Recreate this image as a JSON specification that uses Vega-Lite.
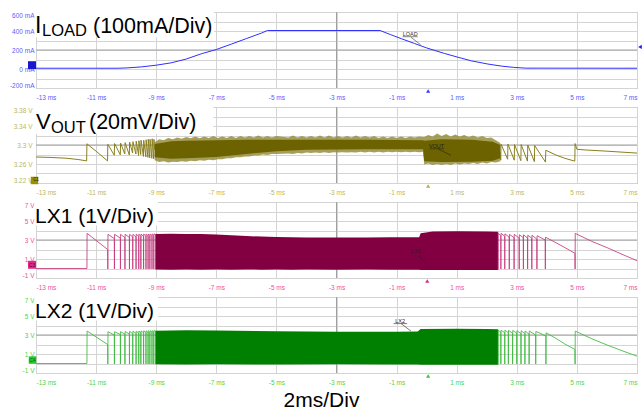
{
  "$schema": "https://vega.github.io/schema/vega-lite/v6.json",
  "background": "white",
  "padding": {"left": 0, "top": 10, "right": 0, "bottom": 0},
  "spacing": 19,
  "bounds": "flush",
  "data": {"values": [{"one": 1}]},
  "config": {
    "font": "Liberation Sans",
    "view": {"stroke": "#a6a6a6", "strokeWidth": 1},
    "axis": {
      "domain": false,
      "ticks": false,
      "grid": true,
      "gridColor": "#d4d4d4",
      "gridWidth": 1,
      "labelFont": "Liberation Sans",
      "labelFontSize": 6.5,
      "labelOverlap": false,
      "labelBound": false,
      "labelFlush": true
    },
    "axisX": {"labelPadding": 6},
    "axisY": {"labelPadding": 2, "minExtent": 35, "maxExtent": 35}
  },
  "datasets": {
    "iload": [
      {"t": -13, "ma": 8}, {"t": -10.3, "ma": 8}, {"t": -10, "ma": 11}, {"t": -9.5, "ma": 22},
      {"t": -9, "ma": 40}, {"t": -8.5, "ma": 65}, {"t": -8, "ma": 105}, {"t": -7.5, "ma": 160},
      {"t": -7, "ma": 205}, {"t": -6.5, "ma": 262}, {"t": -6, "ma": 320}, {"t": -5.5, "ma": 378},
      {"t": -5.3, "ma": 405}, {"t": -1.55, "ma": 405}, {"t": -1.2, "ma": 362}, {"t": -0.85, "ma": 320},
      {"t": -0.4, "ma": 268}, {"t": 0, "ma": 222}, {"t": 0.25, "ma": 197}, {"t": 0.6, "ma": 163},
      {"t": 1.04, "ma": 124}, {"t": 1.5, "ma": 85}, {"t": 2.04, "ma": 52}, {"t": 2.5, "ma": 30},
      {"t": 2.9, "ma": 17}, {"t": 3.3, "ma": 9}, {"t": 7, "ma": 8}
    ],
    "vout_line": [
      {"seg": "a", "t": -13, "v": 3.2747}, {"seg": "a", "t": -12.5, "v": 3.2738}, {"seg": "a", "t": -12, "v": 3.2722},
      {"seg": "a", "t": -11.6, "v": 3.2695}, {"seg": "a", "t": -11.315, "v": 3.2665}, {"seg": "a", "t": -11.305, "v": 3.3025},
      {"seg": "a", "t": -11, "v": 3.287}, {"seg": "a", "t": -10.62, "v": 3.2665}, {"seg": "a", "t": -10.61, "v": 3.3015},
      {"seg": "a", "t": -10.395, "v": 3.2785}, {"seg": "a", "t": -10.385, "v": 3.303}, {"seg": "a", "t": -10.195, "v": 3.2795},
      {"seg": "a", "t": -10.185, "v": 3.304}, {"seg": "a", "t": -10.045, "v": 3.281}, {"seg": "a", "t": -10.035, "v": 3.305},
      {"seg": "a", "t": -9.895, "v": 3.279}, {"seg": "a", "t": -9.885, "v": 3.306}, {"seg": "a", "t": -9.785, "v": 3.283},
      {"seg": "a", "t": -9.775, "v": 3.307}, {"seg": "a", "t": -9.675, "v": 3.281}, {"seg": "a", "t": -9.665, "v": 3.308},
      {"seg": "a", "t": -9.585, "v": 3.278}, {"seg": "a", "t": -9.575, "v": 3.309}, {"seg": "a", "t": -9.515, "v": 3.28},
      {"seg": "a", "t": -9.505, "v": 3.31}, {"seg": "a", "t": -9.425, "v": 3.276}, {"seg": "a", "t": -9.415, "v": 3.31},
      {"seg": "a", "t": -9.345, "v": 3.275}, {"seg": "a", "t": -9.335, "v": 3.311}, {"seg": "a", "t": -9.275, "v": 3.274},
      {"seg": "a", "t": -9.265, "v": 3.312}, {"seg": "a", "t": -9.215, "v": 3.273}, {"seg": "a", "t": -9.205, "v": 3.312},
      {"seg": "a", "t": -9.145, "v": 3.272}, {"seg": "a", "t": -9.135, "v": 3.313}, {"seg": "a", "t": -9.085, "v": 3.271},
      {"seg": "a", "t": -9.075, "v": 3.312}, {"seg": "a", "t": -9.05, "v": 3.29},
      {"seg": "b", "t": 2.45, "v": 3.285}, {"seg": "b", "t": 2.465, "v": 3.268}, {"seg": "b", "t": 2.475, "v": 3.302},
      {"seg": "b", "t": 2.695, "v": 3.27}, {"seg": "b", "t": 2.705, "v": 3.302}, {"seg": "b", "t": 2.915, "v": 3.268},
      {"seg": "b", "t": 2.925, "v": 3.301}, {"seg": "b", "t": 3.135, "v": 3.267}, {"seg": "b", "t": 3.145, "v": 3.301},
      {"seg": "b", "t": 3.355, "v": 3.266}, {"seg": "b", "t": 3.365, "v": 3.3}, {"seg": "b", "t": 3.585, "v": 3.265},
      {"seg": "b", "t": 3.595, "v": 3.299}, {"seg": "b", "t": 3.955, "v": 3.264}, {"seg": "b", "t": 3.965, "v": 3.289},
      {"seg": "b", "t": 4.3, "v": 3.279}, {"seg": "b", "t": 4.6, "v": 3.272}, {"seg": "b", "t": 4.93, "v": 3.266},
      {"seg": "b", "t": 4.94, "v": 3.303}, {"seg": "b", "t": 5.0, "v": 3.291}, {"seg": "b", "t": 5.3, "v": 3.2895},
      {"seg": "b", "t": 6, "v": 3.287}, {"seg": "b", "t": 6.5, "v": 3.285}, {"seg": "b", "t": 7, "v": 3.283}
    ],
    "vout_outer": [
      {"t": -9.05, "lo": 3.268, "hi": 3.306}, {"t": -8.9, "lo": 3.264, "hi": 3.312}, {"t": -8.75, "lo": 3.266, "hi": 3.31},
      {"t": -8.6, "lo": 3.263, "hi": 3.315}, {"t": -8.45, "lo": 3.265, "hi": 3.312}, {"t": -8.3, "lo": 3.264, "hi": 3.316},
      {"t": -8.15, "lo": 3.266, "hi": 3.313}, {"t": -8.0, "lo": 3.265, "hi": 3.317}, {"t": -7.85, "lo": 3.267, "hi": 3.314},
      {"t": -7.7, "lo": 3.266, "hi": 3.318}, {"t": -7.55, "lo": 3.268, "hi": 3.314}, {"t": -7.4, "lo": 3.267, "hi": 3.318},
      {"t": -7.25, "lo": 3.269, "hi": 3.315}, {"t": -7.1, "lo": 3.268, "hi": 3.319}, {"t": -6.95, "lo": 3.27, "hi": 3.315},
      {"t": -6.8, "lo": 3.27, "hi": 3.318}, {"t": -6.65, "lo": 3.272, "hi": 3.315}, {"t": -6.5, "lo": 3.272, "hi": 3.319},
      {"t": -6.35, "lo": 3.274, "hi": 3.315}, {"t": -6.2, "lo": 3.274, "hi": 3.319}, {"t": -6.05, "lo": 3.276, "hi": 3.316},
      {"t": -5.9, "lo": 3.276, "hi": 3.319}, {"t": -5.75, "lo": 3.278, "hi": 3.316}, {"t": -5.6, "lo": 3.278, "hi": 3.32},
      {"t": -5.45, "lo": 3.28, "hi": 3.316}, {"t": -5.3, "lo": 3.279, "hi": 3.319}, {"t": -5.15, "lo": 3.281, "hi": 3.316},
      {"t": -5.0, "lo": 3.281, "hi": 3.319}, {"t": -4.6, "lo": 3.282, "hi": 3.316}, {"t": -4.45, "lo": 3.281, "hi": 3.32},
      {"t": -4.3, "lo": 3.283, "hi": 3.316}, {"t": -4.15, "lo": 3.282, "hi": 3.319}, {"t": -4.0, "lo": 3.284, "hi": 3.316},
      {"t": -3.85, "lo": 3.283, "hi": 3.319}, {"t": -3.7, "lo": 3.284, "hi": 3.316}, {"t": -3.55, "lo": 3.283, "hi": 3.32},
      {"t": -3.4, "lo": 3.285, "hi": 3.316}, {"t": -3.25, "lo": 3.283, "hi": 3.32}, {"t": -3.1, "lo": 3.285, "hi": 3.316},
      {"t": -2.95, "lo": 3.284, "hi": 3.319}, {"t": -2.8, "lo": 3.285, "hi": 3.316}, {"t": -2.65, "lo": 3.284, "hi": 3.319},
      {"t": -2.5, "lo": 3.285, "hi": 3.316}, {"t": -2.35, "lo": 3.284, "hi": 3.32}, {"t": -2.2, "lo": 3.286, "hi": 3.316},
      {"t": -2.05, "lo": 3.284, "hi": 3.319}, {"t": -1.9, "lo": 3.286, "hi": 3.316}, {"t": -1.75, "lo": 3.284, "hi": 3.319},
      {"t": -1.6, "lo": 3.286, "hi": 3.315}, {"t": -1.45, "lo": 3.284, "hi": 3.318}, {"t": -1.3, "lo": 3.286, "hi": 3.315},
      {"t": -1.15, "lo": 3.285, "hi": 3.318}, {"t": -1.0, "lo": 3.286, "hi": 3.315}, {"t": -0.85, "lo": 3.285, "hi": 3.318},
      {"t": -0.7, "lo": 3.286, "hi": 3.315}, {"t": -0.55, "lo": 3.285, "hi": 3.318}, {"t": -0.4, "lo": 3.286, "hi": 3.316},
      {"t": -0.25, "lo": 3.285, "hi": 3.318}, {"t": -0.12, "lo": 3.286, "hi": 3.317}, {"t": -0.08, "lo": 3.259, "hi": 3.317},
      {"t": 0.05, "lo": 3.261, "hi": 3.321}, {"t": 0.2, "lo": 3.258, "hi": 3.318}, {"t": 0.35, "lo": 3.26, "hi": 3.324},
      {"t": 0.5, "lo": 3.258, "hi": 3.319}, {"t": 0.65, "lo": 3.26, "hi": 3.323}, {"t": 0.8, "lo": 3.258, "hi": 3.318},
      {"t": 0.95, "lo": 3.261, "hi": 3.322}, {"t": 1.1, "lo": 3.259, "hi": 3.318}, {"t": 1.25, "lo": 3.261, "hi": 3.321},
      {"t": 1.4, "lo": 3.26, "hi": 3.317}, {"t": 1.55, "lo": 3.262, "hi": 3.32}, {"t": 1.7, "lo": 3.26, "hi": 3.316},
      {"t": 1.85, "lo": 3.263, "hi": 3.319}, {"t": 2.0, "lo": 3.261, "hi": 3.315}, {"t": 2.15, "lo": 3.264, "hi": 3.316},
      {"t": 2.3, "lo": 3.263, "hi": 3.31}, {"t": 2.45, "lo": 3.266, "hi": 3.304}
    ],
    "vout_inner": [
      {"t": -9.05, "lo": 3.274, "hi": 3.302}, {"t": -8.5, "lo": 3.271, "hi": 3.308}, {"t": -8, "lo": 3.272, "hi": 3.309},
      {"t": -7, "lo": 3.275, "hi": 3.31}, {"t": -6, "lo": 3.281, "hi": 3.311}, {"t": -5, "lo": 3.287, "hi": 3.311},
      {"t": -4, "lo": 3.29, "hi": 3.311}, {"t": -2, "lo": 3.291, "hi": 3.311}, {"t": -0.12, "lo": 3.291, "hi": 3.31},
      {"t": -0.08, "lo": 3.266, "hi": 3.309}, {"t": 0.5, "lo": 3.264, "hi": 3.312}, {"t": 1.5, "lo": 3.265, "hi": 3.311},
      {"t": 2.2, "lo": 3.267, "hi": 3.307}, {"t": 2.45, "lo": 3.272, "hi": 3.3}
    ],
    "lx1_line": [
      {"seg": "a", "t": -13, "v": 0}, {"seg": "a", "t": -11.305, "v": 0}, {"seg": "a", "t": -11.3, "v": 3.7},
      {"seg": "a", "t": -10.615, "v": 2.0}, {"seg": "a", "t": -10.61, "v": -0.05}, {"seg": "a", "t": -10.605, "v": 3.6},
      {"seg": "a", "t": -10.395, "v": 3.15}, {"seg": "a", "t": -10.39, "v": -0.05}, {"seg": "a", "t": -10.385, "v": 3.6},
      {"seg": "a", "t": -10.195, "v": 3.2}, {"seg": "a", "t": -10.19, "v": -0.05}, {"seg": "a", "t": -10.185, "v": 3.6},
      {"seg": "a", "t": -10.045, "v": 3.25}, {"seg": "a", "t": -10.04, "v": -0.05}, {"seg": "a", "t": -10.035, "v": 3.6},
      {"seg": "a", "t": -9.895, "v": 3.28}, {"seg": "a", "t": -9.89, "v": -0.05}, {"seg": "a", "t": -9.885, "v": 3.6},
      {"seg": "a", "t": -9.785, "v": 3.33}, {"seg": "a", "t": -9.78, "v": -0.05}, {"seg": "a", "t": -9.775, "v": 3.6},
      {"seg": "a", "t": -9.675, "v": 3.33}, {"seg": "a", "t": -9.67, "v": -0.05}, {"seg": "a", "t": -9.665, "v": 3.62},
      {"seg": "a", "t": -9.585, "v": 3.38}, {"seg": "a", "t": -9.58, "v": -0.05}, {"seg": "a", "t": -9.575, "v": 3.62},
      {"seg": "a", "t": -9.515, "v": 3.4}, {"seg": "a", "t": -9.51, "v": -0.05}, {"seg": "a", "t": -9.505, "v": 3.62},
      {"seg": "a", "t": -9.425, "v": 3.4}, {"seg": "a", "t": -9.42, "v": -0.05}, {"seg": "a", "t": -9.415, "v": 3.63},
      {"seg": "a", "t": -9.345, "v": 3.42}, {"seg": "a", "t": -9.34, "v": -0.05}, {"seg": "a", "t": -9.335, "v": 3.63},
      {"seg": "a", "t": -9.275, "v": 3.45}, {"seg": "a", "t": -9.27, "v": -0.05}, {"seg": "a", "t": -9.265, "v": 3.63},
      {"seg": "a", "t": -9.215, "v": 3.47}, {"seg": "a", "t": -9.21, "v": -0.05}, {"seg": "a", "t": -9.205, "v": 3.64},
      {"seg": "a", "t": -9.145, "v": 3.48}, {"seg": "a", "t": -9.14, "v": -0.05}, {"seg": "a", "t": -9.135, "v": 3.64},
      {"seg": "a", "t": -9.085, "v": 3.5}, {"seg": "a", "t": -9.08, "v": -0.05}, {"seg": "a", "t": -9.075, "v": 3.64},
      {"seg": "a", "t": -9.03, "v": 3.6},
      {"seg": "b", "t": 2.37, "v": 3.85}, {"seg": "b", "t": 2.375, "v": -0.1}, {"seg": "b", "t": 2.38, "v": 3.7},
      {"seg": "b", "t": 2.465, "v": 3.45}, {"seg": "b", "t": 2.47, "v": -0.05}, {"seg": "b", "t": 2.475, "v": 3.7},
      {"seg": "b", "t": 2.595, "v": 3.4}, {"seg": "b", "t": 2.6, "v": -0.05}, {"seg": "b", "t": 2.605, "v": 3.65},
      {"seg": "b", "t": 2.745, "v": 3.3}, {"seg": "b", "t": 2.75, "v": -0.05}, {"seg": "b", "t": 2.755, "v": 3.6},
      {"seg": "b", "t": 2.905, "v": 3.25}, {"seg": "b", "t": 2.91, "v": -0.05}, {"seg": "b", "t": 2.915, "v": 3.6},
      {"seg": "b", "t": 3.075, "v": 3.2}, {"seg": "b", "t": 3.08, "v": -0.05}, {"seg": "b", "t": 3.085, "v": 3.55},
      {"seg": "b", "t": 3.215, "v": 3.25}, {"seg": "b", "t": 3.22, "v": -0.05}, {"seg": "b", "t": 3.225, "v": 3.55},
      {"seg": "b", "t": 3.355, "v": 3.2}, {"seg": "b", "t": 3.36, "v": -0.05}, {"seg": "b", "t": 3.365, "v": 3.5},
      {"seg": "b", "t": 3.495, "v": 3.2}, {"seg": "b", "t": 3.5, "v": -0.05}, {"seg": "b", "t": 3.505, "v": 3.5},
      {"seg": "b", "t": 3.665, "v": 3.1}, {"seg": "b", "t": 3.67, "v": -0.05}, {"seg": "b", "t": 3.675, "v": 3.45},
      {"seg": "b", "t": 3.945, "v": 3.0}, {"seg": "b", "t": 3.95, "v": -0.05}, {"seg": "b", "t": 3.955, "v": 3.3},
      {"seg": "b", "t": 4.3, "v": 2.72}, {"seg": "b", "t": 4.6, "v": 2.2}, {"seg": "b", "t": 4.935, "v": 1.6},
      {"seg": "b", "t": 4.94, "v": -0.05}, {"seg": "b", "t": 4.945, "v": 3.7}, {"seg": "b", "t": 5.5, "v": 2.85},
      {"seg": "b", "t": 6, "v": 2.2}, {"seg": "b", "t": 6.5, "v": 1.5}, {"seg": "b", "t": 7, "v": 0.82}
    ],
    "lx1_band": [
      {"t": -9.03, "lo": -0.1, "hi": 3.62}, {"t": -8.5, "lo": -0.12, "hi": 3.66}, {"t": -8, "lo": -0.1, "hi": 3.64},
      {"t": -7.5, "lo": -0.12, "hi": 3.62}, {"t": -7, "lo": -0.1, "hi": 3.58}, {"t": -6.5, "lo": -0.12, "hi": 3.5},
      {"t": -6, "lo": -0.1, "hi": 3.42}, {"t": -5.5, "lo": -0.12, "hi": 3.36}, {"t": -5, "lo": -0.1, "hi": 3.32},
      {"t": -4.5, "lo": -0.12, "hi": 3.28}, {"t": -4, "lo": -0.1, "hi": 3.27}, {"t": -3, "lo": -0.12, "hi": 3.26},
      {"t": -2, "lo": -0.1, "hi": 3.27}, {"t": -1.2, "lo": -0.12, "hi": 3.28}, {"t": -0.25, "lo": -0.12, "hi": 3.3},
      {"t": -0.2, "lo": -0.15, "hi": 3.7}, {"t": 0.2, "lo": -0.15, "hi": 3.9}, {"t": 1, "lo": -0.15, "hi": 3.92},
      {"t": 2, "lo": -0.15, "hi": 3.9}, {"t": 2.37, "lo": -0.15, "hi": 3.88}
    ],
    "lx2_line": [
      {"seg": "a", "t": -13, "v": 0}, {"seg": "a", "t": -11.305, "v": 0}, {"seg": "a", "t": -11.3, "v": 3.42},
      {"seg": "a", "t": -10.615, "v": 2.0}, {"seg": "a", "t": -10.61, "v": -0.05}, {"seg": "a", "t": -10.605, "v": 3.35},
      {"seg": "a", "t": -10.395, "v": 3.0}, {"seg": "a", "t": -10.39, "v": -0.05}, {"seg": "a", "t": -10.385, "v": 3.35},
      {"seg": "a", "t": -10.195, "v": 3.05}, {"seg": "a", "t": -10.19, "v": -0.05}, {"seg": "a", "t": -10.185, "v": 3.36},
      {"seg": "a", "t": -10.045, "v": 3.1}, {"seg": "a", "t": -10.04, "v": -0.05}, {"seg": "a", "t": -10.035, "v": 3.37},
      {"seg": "a", "t": -9.895, "v": 3.12}, {"seg": "a", "t": -9.89, "v": -0.05}, {"seg": "a", "t": -9.885, "v": 3.38},
      {"seg": "a", "t": -9.785, "v": 3.15}, {"seg": "a", "t": -9.78, "v": -0.05}, {"seg": "a", "t": -9.775, "v": 3.4},
      {"seg": "a", "t": -9.675, "v": 3.18}, {"seg": "a", "t": -9.67, "v": -0.05}, {"seg": "a", "t": -9.665, "v": 3.4},
      {"seg": "a", "t": -9.585, "v": 3.2}, {"seg": "a", "t": -9.58, "v": -0.05}, {"seg": "a", "t": -9.575, "v": 3.42},
      {"seg": "a", "t": -9.515, "v": 3.22}, {"seg": "a", "t": -9.51, "v": -0.05}, {"seg": "a", "t": -9.505, "v": 3.42},
      {"seg": "a", "t": -9.425, "v": 3.25}, {"seg": "a", "t": -9.42, "v": -0.05}, {"seg": "a", "t": -9.415, "v": 3.44},
      {"seg": "a", "t": -9.345, "v": 3.27}, {"seg": "a", "t": -9.34, "v": -0.05}, {"seg": "a", "t": -9.335, "v": 3.44},
      {"seg": "a", "t": -9.275, "v": 3.3}, {"seg": "a", "t": -9.27, "v": -0.05}, {"seg": "a", "t": -9.265, "v": 3.45},
      {"seg": "a", "t": -9.215, "v": 3.32}, {"seg": "a", "t": -9.21, "v": -0.05}, {"seg": "a", "t": -9.205, "v": 3.45},
      {"seg": "a", "t": -9.145, "v": 3.33}, {"seg": "a", "t": -9.14, "v": -0.05}, {"seg": "a", "t": -9.135, "v": 3.46},
      {"seg": "a", "t": -9.085, "v": 3.35}, {"seg": "a", "t": -9.08, "v": -0.05}, {"seg": "a", "t": -9.075, "v": 3.46},
      {"seg": "a", "t": -9.03, "v": 3.42},
      {"seg": "b", "t": 2.37, "v": 3.6}, {"seg": "b", "t": 2.375, "v": -0.1}, {"seg": "b", "t": 2.38, "v": 3.5},
      {"seg": "b", "t": 2.465, "v": 3.3}, {"seg": "b", "t": 2.47, "v": -0.05}, {"seg": "b", "t": 2.475, "v": 3.5},
      {"seg": "b", "t": 2.595, "v": 3.25}, {"seg": "b", "t": 2.6, "v": -0.05}, {"seg": "b", "t": 2.605, "v": 3.5},
      {"seg": "b", "t": 2.715, "v": 3.25}, {"seg": "b", "t": 2.72, "v": -0.05}, {"seg": "b", "t": 2.725, "v": 3.48},
      {"seg": "b", "t": 2.855, "v": 3.2}, {"seg": "b", "t": 2.86, "v": -0.05}, {"seg": "b", "t": 2.865, "v": 3.48},
      {"seg": "b", "t": 2.995, "v": 3.2}, {"seg": "b", "t": 3.0, "v": -0.05}, {"seg": "b", "t": 3.005, "v": 3.45},
      {"seg": "b", "t": 3.135, "v": 3.15}, {"seg": "b", "t": 3.14, "v": -0.05}, {"seg": "b", "t": 3.145, "v": 3.45},
      {"seg": "b", "t": 3.265, "v": 3.15}, {"seg": "b", "t": 3.27, "v": -0.05}, {"seg": "b", "t": 3.275, "v": 3.42},
      {"seg": "b", "t": 3.405, "v": 3.1}, {"seg": "b", "t": 3.41, "v": -0.05}, {"seg": "b", "t": 3.415, "v": 3.42},
      {"seg": "b", "t": 3.625, "v": 3.0}, {"seg": "b", "t": 3.63, "v": -0.05}, {"seg": "b", "t": 3.635, "v": 3.38},
      {"seg": "b", "t": 3.965, "v": 2.9}, {"seg": "b", "t": 3.97, "v": -0.05}, {"seg": "b", "t": 3.975, "v": 3.23},
      {"seg": "b", "t": 4.3, "v": 2.65}, {"seg": "b", "t": 4.6, "v": 2.05}, {"seg": "b", "t": 4.935, "v": 1.48},
      {"seg": "b", "t": 4.94, "v": -0.05}, {"seg": "b", "t": 4.945, "v": 3.41}, {"seg": "b", "t": 5.5, "v": 2.6},
      {"seg": "b", "t": 6, "v": 1.95}, {"seg": "b", "t": 6.5, "v": 1.35}, {"seg": "b", "t": 7, "v": 0.77}
    ],
    "lx2_band": [
      {"t": -9.03, "lo": -0.08, "hi": 3.45}, {"t": -8, "lo": -0.1, "hi": 3.5}, {"t": -7, "lo": -0.08, "hi": 3.48},
      {"t": -5, "lo": -0.1, "hi": 3.4}, {"t": -3, "lo": -0.08, "hi": 3.35}, {"t": -1, "lo": -0.1, "hi": 3.35},
      {"t": -0.3, "lo": -0.1, "hi": 3.36}, {"t": -0.2, "lo": -0.12, "hi": 3.62}, {"t": 1, "lo": -0.12, "hi": 3.66},
      {"t": 2, "lo": -0.12, "hi": 3.62}, {"t": 2.37, "lo": -0.12, "hi": 3.6}
    ]
  },
  "vconcat": [
    {
      "width": 601,
      "height": 76,
      "layer": [
        {
          "data": {"name": "iload"},
          "mark": {"type": "line", "opacity": 0},
          "encoding": {
            "x": {"field": "t", "type": "quantitative", "title": null, "scale": {"domain": [-13, 7], "nice": false, "zero": false},
                  "axis": {"values": [-13, -11, -9, -7, -5, -3, -1, 1, 3, 5, 7], "tickCount": 30, "labelExpr": "datum.value + ' ms'", "labelColor": "#5b5bff",
                           "grid": true, "gridColor": "#d4d4d4", "labelOverlap": false, "labelFlush": true}},
            "y": {"field": "ma", "type": "quantitative", "title": null, "scale": {"domain": [-200, 600], "nice": false, "zero": false},
                  "axis": {"values": [-200, -100, 0, 100, 200, 300, 400, 500, 600], "tickCount": 30, "labelExpr": "datum.value % 200 == 0 ? datum.value + ' mA' : ''", "labelColor": "#5b5bff",
                           "grid": true, "gridColor": "#d4d4d4", "labelOverlap": false, "labelFlush": true}}
          }
        },
        {
          "mark": {"type": "rect", "color": "white"},
          "encoding": {
            "x": {"datum": -13.05, "type": "quantitative"},
            "x2": {"datum": -7.08},
            "y": {"datum": 606, "type": "quantitative"},
            "y2": {"datum": 335}
          }
        },
        {"mark": {"type": "rule", "color": "#a0a0a0"}, "encoding": {"x": {"datum": -3, "type": "quantitative"}}},
        {"mark": {"type": "rule", "color": "#a0a0a0"}, "encoding": {"y": {"datum": 200, "type": "quantitative"}}},
        {
          "data": {"name": "iload"},
          "mark": {"type": "line", "color": "#2f2fff", "strokeWidth": 1},
          "encoding": {
            "x": {"field": "t", "type": "quantitative"},
            "y": {"field": "ma", "type": "quantitative"}
          }
        },
        {"mark": {"type": "text", "text": "LOAD", "fontSize": 5.5, "color": "#333", "align": "center", "baseline": "alphabetic"},
         "encoding": {"x": {"datum": -0.55, "type": "quantitative"}, "y": {"datum": 352, "type": "quantitative"}}},
        {"mark": {"type": "rule", "color": "#333", "strokeWidth": 0.6},
         "encoding": {"x": {"datum": -0.8, "type": "quantitative"}, "x2": {"datum": -0.3}, "y": {"datum": 340, "type": "quantitative"}, "y2": {"datum": 340}}},
        {"mark": {"type": "rule", "color": "#333", "strokeWidth": 0.6},
         "encoding": {"x": {"datum": -0.52, "type": "quantitative"}, "x2": {"datum": -0.2}, "y": {"datum": 334, "type": "quantitative"}, "y2": {"datum": 255}}},
        {"mark": {"type": "text", "text": "I", "font": "Liberation Sans", "fontSize": 23, "color": "black", "align": "left", "baseline": "alphabetic", "dx": -1, "dy": 21},
         "encoding": {"x": {"datum": -13, "type": "quantitative"}, "y": {"datum": 600, "type": "quantitative"}}},
        {"mark": {"type": "text", "text": "LOAD", "font": "Liberation Sans", "fontSize": 16.5, "color": "black", "align": "left", "baseline": "alphabetic", "dx": 6, "dy": 24},
         "encoding": {"x": {"datum": -13, "type": "quantitative"}, "y": {"datum": 600, "type": "quantitative"}}},
        {"mark": {"type": "text", "text": "(100mA/Div)", "font": "Liberation Sans", "fontSize": 21.5, "color": "black", "align": "left", "baseline": "alphabetic", "dx": 57, "dy": 21},
         "encoding": {"x": {"datum": -13, "type": "quantitative"}, "y": {"datum": 600, "type": "quantitative"}}},
        {"mark": {"type": "point", "shape": "square", "filled": true, "size": 64, "color": "#1818d0", "opacity": 1, "xOffset": -4},
         "encoding": {"x": {"datum": -13, "type": "quantitative"}, "y": {"datum": 40, "type": "quantitative"}}},
        {"mark": {"type": "point", "shape": "triangle-up", "filled": true, "size": 18, "color": "#3a3aff", "opacity": 1, "yOffset": 3},
         "encoding": {"x": {"datum": 0.05, "type": "quantitative"}, "y": {"datum": -200, "type": "quantitative"}}},
        {"mark": {"type": "point", "shape": "triangle-left", "filled": true, "size": 18, "color": "#2020e0", "opacity": 1, "xOffset": 3},
         "encoding": {"x": {"datum": 7, "type": "quantitative"}, "y": {"datum": 232, "type": "quantitative"}}}
      ]
    },
    {
      "width": 601,
      "height": 76,
      "layer": [
        {
          "data": {"name": "vout_line"},
          "mark": {"type": "line", "opacity": 0},
          "encoding": {
            "x": {"field": "t", "type": "quantitative", "title": null, "scale": {"domain": [-13, 7], "nice": false, "zero": false},
                  "axis": {"values": [-13, -11, -9, -7, -5, -3, -1, 1, 3, 5, 7], "tickCount": 30, "labelExpr": "datum.value + ' ms'", "labelColor": "#bdb858",
                           "grid": true, "gridColor": "#d4d4d4", "labelOverlap": false, "labelFlush": true}},
            "y": {"field": "v", "type": "quantitative", "title": null, "scale": {"domain": [3.22, 3.38], "nice": false, "zero": false},
                  "axis": {"values": [3.22, 3.24, 3.26, 3.28, 3.3, 3.32, 3.34, 3.36, 3.38], "tickCount": 30, "labelExpr": "round(datum.value * 100) % 4 == 2 ? format(datum.value, '.2~f') + ' V' : ''", "labelColor": "#bdb858",
                           "grid": true, "gridColor": "#d4d4d4", "labelOverlap": false, "labelFlush": true, "labelPadding": 4}},
            "detail": {"field": "seg"}
          }
        },
        {
          "mark": {"type": "rect", "color": "white"},
          "encoding": {
            "x": {"datum": -13.05, "type": "quantitative"},
            "x2": {"datum": -7.1},
            "y": {"datum": 3.3812, "type": "quantitative"},
            "y2": {"datum": 3.3235}
          }
        },
        {"mark": {"type": "rule", "color": "#a0a0a0"}, "encoding": {"x": {"datum": -3, "type": "quantitative"}}},
        {"mark": {"type": "rule", "color": "#a0a0a0"}, "encoding": {"y": {"datum": 3.3, "type": "quantitative"}}},
        {
          "data": {"name": "vout_line"},
          "mark": {"type": "line", "color": "#8a8020", "strokeWidth": 1},
          "encoding": {
            "x": {"field": "t", "type": "quantitative"},
            "y": {"field": "v", "type": "quantitative"},
            "detail": {"field": "seg"}
          }
        },
        {
          "data": {"name": "vout_outer"},
          "mark": {"type": "area", "color": "#978e3c", "opacity": 0.85},
          "encoding": {
            "x": {"field": "t", "type": "quantitative"},
            "y": {"field": "lo", "type": "quantitative"},
            "y2": {"field": "hi"}
          }
        },
        {
          "data": {"name": "vout_inner"},
          "mark": {"type": "area", "color": "#6c6300", "opacity": 1},
          "encoding": {
            "x": {"field": "t", "type": "quantitative"},
            "y": {"field": "lo", "type": "quantitative"},
            "y2": {"field": "hi"}
          }
        },
        {"mark": {"type": "text", "text": "VOUT", "fontSize": 5.5, "color": "#222", "align": "center", "baseline": "alphabetic"},
         "encoding": {"x": {"datum": 0.33, "type": "quantitative"}, "y": {"datum": 3.2943, "type": "quantitative"}}},
        {"mark": {"type": "rule", "color": "#222", "strokeWidth": 0.6},
         "encoding": {"x": {"datum": 0.1, "type": "quantitative"}, "x2": {"datum": 0.58}, "y": {"datum": 3.292, "type": "quantitative"}, "y2": {"datum": 3.292}}},
        {"mark": {"type": "rule", "color": "#222", "strokeWidth": 0.6},
         "encoding": {"x": {"datum": 0.37, "type": "quantitative"}, "x2": {"datum": 0.81}, "y": {"datum": 3.292, "type": "quantitative"}, "y2": {"datum": 3.2783}}},
        {"mark": {"type": "text", "text": "V", "font": "Liberation Sans", "fontSize": 22, "color": "black", "align": "left", "baseline": "alphabetic", "dx": 0, "dy": 22},
         "encoding": {"x": {"datum": -13, "type": "quantitative"}, "y": {"datum": 3.38, "type": "quantitative"}}},
        {"mark": {"type": "text", "text": "OUT", "font": "Liberation Sans", "fontSize": 16.5, "color": "black", "align": "left", "baseline": "alphabetic", "dx": 15, "dy": 26},
         "encoding": {"x": {"datum": -13, "type": "quantitative"}, "y": {"datum": 3.38, "type": "quantitative"}}},
        {"mark": {"type": "text", "text": "(20mV/Div)", "font": "Liberation Sans", "fontSize": 21.5, "color": "black", "align": "left", "baseline": "alphabetic", "dx": 53, "dy": 22},
         "encoding": {"x": {"datum": -13, "type": "quantitative"}, "y": {"datum": 3.38, "type": "quantitative"}}},
        {"mark": {"type": "point", "shape": "square", "filled": true, "size": 56, "color": "#9a9000", "opacity": 1, "xOffset": -1.5},
         "encoding": {"x": {"datum": -13, "type": "quantitative"}, "y": {"datum": 3.2253, "type": "quantitative"}}},
        {"mark": {"type": "text", "text": "C1", "fontSize": 4.5, "color": "#222", "align": "center", "baseline": "middle", "dx": 0},
         "encoding": {"x": {"datum": -13, "type": "quantitative"}, "y": {"datum": 3.2253, "type": "quantitative"}}},
        {"mark": {"type": "point", "shape": "triangle-up", "filled": true, "size": 18, "color": "#b8b040", "opacity": 1, "yOffset": 3},
         "encoding": {"x": {"datum": 0.05, "type": "quantitative"}, "y": {"datum": 3.22, "type": "quantitative"}}}
      ]
    },
    {
      "width": 601,
      "height": 76,
      "layer": [
        {
          "data": {"name": "lx1_line"},
          "mark": {"type": "line", "opacity": 0},
          "encoding": {
            "x": {"field": "t", "type": "quantitative", "title": null, "scale": {"domain": [-13, 7], "nice": false, "zero": false},
                  "axis": {"values": [-13, -11, -9, -7, -5, -3, -1, 1, 3, 5, 7], "tickCount": 30, "labelExpr": "datum.value + ' ms'", "labelColor": "#f0509c",
                           "grid": true, "gridColor": "#d4d4d4", "labelOverlap": false, "labelFlush": true}},
            "y": {"field": "v", "type": "quantitative", "title": null, "scale": {"domain": [-1, 7], "nice": false, "zero": false},
                  "axis": {"values": [-1, 0, 1, 2, 3, 4, 5, 6, 7], "tickCount": 30, "labelExpr": "datum.value % 2 != 0 ? datum.value + ' V' : ''", "labelColor": "#f0509c",
                           "grid": true, "gridColor": "#d4d4d4", "labelOverlap": false, "labelFlush": true}},
            "detail": {"field": "seg"}
          }
        },
        {
          "mark": {"type": "rect", "color": "white"},
          "encoding": {
            "x": {"datum": -13.05, "type": "quantitative"},
            "x2": {"datum": -8.94},
            "y": {"datum": 7.06, "type": "quantitative"},
            "y2": {"datum": 4.53}
          }
        },
        {"mark": {"type": "rule", "color": "#a0a0a0"}, "encoding": {"x": {"datum": -3, "type": "quantitative"}}},
        {"mark": {"type": "rule", "color": "#a0a0a0"}, "encoding": {"y": {"datum": 3, "type": "quantitative"}}},
        {
          "data": {"name": "lx1_line"},
          "mark": {"type": "line", "color": "#c43a7c", "strokeWidth": 1, "opacity": 0.85},
          "encoding": {
            "x": {"field": "t", "type": "quantitative"},
            "y": {"field": "v", "type": "quantitative"},
            "detail": {"field": "seg"}
          }
        },
        {
          "data": {"name": "lx1_band"},
          "mark": {"type": "area", "color": "#820042", "opacity": 1},
          "encoding": {
            "x": {"field": "t", "type": "quantitative"},
            "y": {"field": "lo", "type": "quantitative"},
            "y2": {"field": "hi"}
          }
        },
        {"mark": {"type": "text", "text": "LX1", "fontSize": 5.5, "color": "#222", "align": "center", "baseline": "alphabetic"},
         "encoding": {"x": {"datum": -0.355, "type": "quantitative"}, "y": {"datum": 1.66, "type": "quantitative"}}},
        {"mark": {"type": "rule", "color": "#222", "strokeWidth": 0.6},
         "encoding": {"x": {"datum": -0.3, "type": "quantitative"}, "x2": {"datum": -0.02}, "y": {"datum": 1.32, "type": "quantitative"}, "y2": {"datum": 0.61}}},
        {"mark": {"type": "text", "text": "LX1 (1V/Div)", "font": "Liberation Sans", "fontSize": 21, "color": "black", "align": "left", "baseline": "alphabetic", "dx": -1, "dy": 20.7},
         "encoding": {"x": {"datum": -13, "type": "quantitative"}, "y": {"datum": 7, "type": "quantitative"}}},
        {"mark": {"type": "point", "shape": "square", "filled": true, "size": 64, "color": "#e0288a", "opacity": 1, "xOffset": -4},
         "encoding": {"x": {"datum": -13, "type": "quantitative"}, "y": {"datum": 0.39, "type": "quantitative"}}},
        {"mark": {"type": "text", "text": "C3", "fontSize": 5, "color": "#5a0030", "align": "center", "baseline": "middle", "dx": -4},
         "encoding": {"x": {"datum": -13, "type": "quantitative"}, "y": {"datum": 0.39, "type": "quantitative"}}},
        {"mark": {"type": "point", "shape": "triangle-up", "filled": true, "size": 18, "color": "#e0288a", "opacity": 1, "yOffset": 3},
         "encoding": {"x": {"datum": 0.02, "type": "quantitative"}, "y": {"datum": -1, "type": "quantitative"}}}
      ]
    },
    {
      "width": 601,
      "height": 76,
      "layer": [
        {
          "data": {"name": "lx2_line"},
          "mark": {"type": "line", "opacity": 0},
          "encoding": {
            "x": {"field": "t", "type": "quantitative", "title": "2ms/Div", "scale": {"domain": [-13, 7], "nice": false, "zero": false},
                  "axis": {"values": [-13, -11, -9, -7, -5, -3, -1, 1, 3, 5, 7], "tickCount": 30, "labelExpr": "datum.value + ' ms'", "labelColor": "#4cd44c",
                           "grid": true, "gridColor": "#d4d4d4", "labelOverlap": false, "labelFlush": true,
                           "titleFont": "Liberation Sans", "titleFontSize": 21, "titleFontWeight": "normal", "titleColor": "black",
                           "titleX": 285, "titleY": 33, "titleAlign": "center", "titleBaseline": "alphabetic"}},
            "y": {"field": "v", "type": "quantitative", "title": null, "scale": {"domain": [-1, 7], "nice": false, "zero": false},
                  "axis": {"values": [-1, 0, 1, 2, 3, 4, 5, 6, 7], "tickCount": 30, "labelExpr": "datum.value % 2 != 0 ? datum.value + ' V' : ''", "labelColor": "#4cd44c",
                           "grid": true, "gridColor": "#d4d4d4", "labelOverlap": false, "labelFlush": true}},
            "detail": {"field": "seg"}
          }
        },
        {
          "mark": {"type": "rect", "color": "white"},
          "encoding": {
            "x": {"datum": -13.05, "type": "quantitative"},
            "x2": {"datum": -8.94},
            "y": {"datum": 7.06, "type": "quantitative"},
            "y2": {"datum": 4.53}
          }
        },
        {"mark": {"type": "rule", "color": "#a0a0a0"}, "encoding": {"x": {"datum": -3, "type": "quantitative"}}},
        {"mark": {"type": "rule", "color": "#a0a0a0"}, "encoding": {"y": {"datum": 3, "type": "quantitative"}}},
        {
          "data": {"name": "lx2_line"},
          "mark": {"type": "line", "color": "#3cb83c", "strokeWidth": 1, "opacity": 0.85},
          "encoding": {
            "x": {"field": "t", "type": "quantitative"},
            "y": {"field": "v", "type": "quantitative"},
            "detail": {"field": "seg"}
          }
        },
        {
          "data": {"name": "lx2_band"},
          "mark": {"type": "area", "color": "#008000", "opacity": 1},
          "encoding": {
            "x": {"field": "t", "type": "quantitative"},
            "y": {"field": "lo", "type": "quantitative"},
            "y2": {"field": "hi"}
          }
        },
        {"mark": {"type": "text", "text": "LX2", "fontSize": 5.5, "color": "#222", "align": "center", "baseline": "alphabetic"},
         "encoding": {"x": {"datum": -0.88, "type": "quantitative"}, "y": {"datum": 4.29, "type": "quantitative"}}},
        {"mark": {"type": "rule", "color": "#222", "strokeWidth": 0.6},
         "encoding": {"x": {"datum": -1.1, "type": "quantitative"}, "x2": {"datum": -0.65}, "y": {"datum": 4.2, "type": "quantitative"}, "y2": {"datum": 4.2}}},
        {"mark": {"type": "rule", "color": "#222", "strokeWidth": 0.6},
         "encoding": {"x": {"datum": -0.85, "type": "quantitative"}, "x2": {"datum": -0.52}, "y": {"datum": 4.2, "type": "quantitative"}, "y2": {"datum": 3.41}}},
        {"mark": {"type": "text", "text": "LX2 (1V/Div)", "font": "Liberation Sans", "fontSize": 21, "color": "black", "align": "left", "baseline": "alphabetic", "dx": -1, "dy": 21.3},
         "encoding": {"x": {"datum": -13, "type": "quantitative"}, "y": {"datum": 7, "type": "quantitative"}}},
        {"mark": {"type": "point", "shape": "square", "filled": true, "size": 56, "color": "#22cc22", "opacity": 1, "xOffset": -3.5},
         "encoding": {"x": {"datum": -13, "type": "quantitative"}, "y": {"datum": 0.36, "type": "quantitative"}}},
        {"mark": {"type": "text", "text": "C4", "fontSize": 5, "color": "#063", "align": "center", "baseline": "middle", "dx": -3.5},
         "encoding": {"x": {"datum": -13, "type": "quantitative"}, "y": {"datum": 0.36, "type": "quantitative"}}},
        {"mark": {"type": "point", "shape": "triangle-up", "filled": true, "size": 18, "color": "#30d030", "opacity": 1, "yOffset": 3},
         "encoding": {"x": {"datum": 0.05, "type": "quantitative"}, "y": {"datum": -1, "type": "quantitative"}}}
      ]
    }
  ]
}
